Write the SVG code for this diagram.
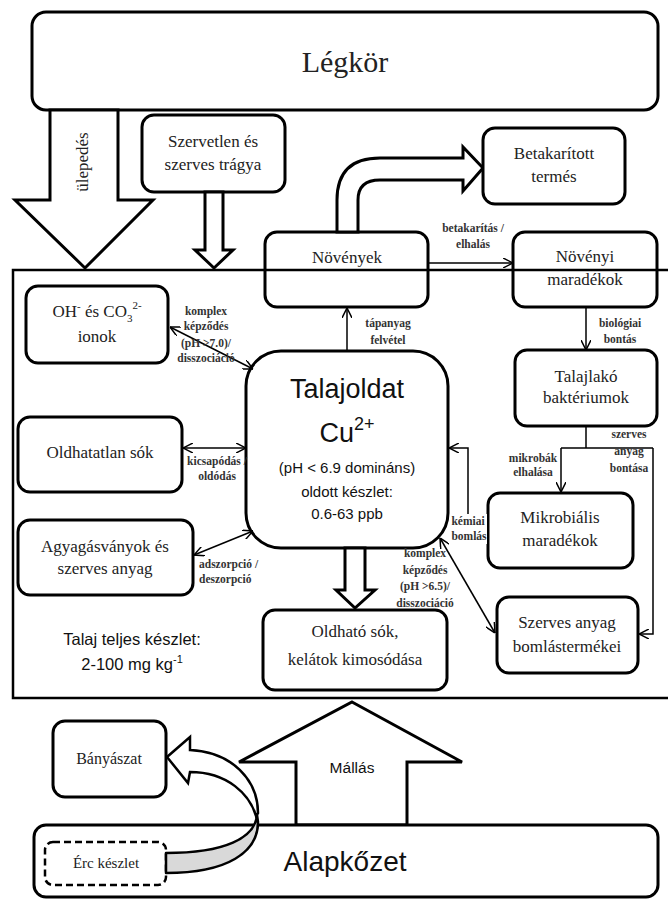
<svg xmlns="http://www.w3.org/2000/svg" width="668" height="899" viewBox="0 0 668 899">
<style>
.box{fill:#fff;stroke:#000;stroke-width:3}
.nb{fill:none;stroke:#000;stroke-width:3}
.big{fill:#fff;stroke:#000;stroke-width:3;stroke-linejoin:miter}
.ln{fill:none;stroke:#000;stroke-width:1.5}
.serif{font-family:"Liberation Serif","Times New Roman",serif;font-size:17px;fill:#222;text-anchor:middle}
.sans{font-family:"Liberation Sans",Arial,sans-serif;fill:#111;text-anchor:middle}
.lbl{font-family:"Liberation Serif","Times New Roman",serif;font-size:11.5px;font-weight:bold;fill:#333;text-anchor:middle}
</style>
<defs>
<marker id="ah" viewBox="0 0 10 10" refX="10" refY="5" markerWidth="10" markerHeight="10" markerUnits="userSpaceOnUse" orient="auto-start-reverse">
<path d="M0,0 L10,5 L0,10" fill="none" stroke="#000" stroke-width="1.5"/>
</marker>
</defs>

<g id="legkor">
<rect class="box" x="32" y="12" width="626" height="98" rx="14"/>
<text class="serif" x="345" y="72" style="font-size:30px">Légkör</text>
</g>

<g id="ulepedes">
<polygon class="big" points="50,110 118,110 118,200 153,200 85,268 15,200 50,200"/>
<text class="serif" transform="translate(88,162) rotate(-90)" style="font-size:17px">ülepedés</text>
</g>

<g id="talaj">
<rect x="13" y="270" width="700" height="428" fill="none" stroke="#000" stroke-width="2.5"/>
<text class="sans" x="132" y="645" style="font-size:16.5px">Talaj teljes készlet:</text>
<text class="sans" x="132" y="670" style="font-size:16.5px">2-100 mg kg<tspan dy="-7" style="font-size:11px">-1</tspan></text>
</g>

<g id="szervetlen">
<rect class="box" x="142" y="115" width="143" height="77" rx="12"/>
<text class="serif" x="213" y="147">Szervetlen és</text>
<text class="serif" x="213" y="170">szerves trágya</text>
<polygon class="big" points="205,192 223,192 223,250 233,250 214,268 195,250 205,250"/>
</g>

<g id="novenyek">
<rect class="nb" x="265" y="232" width="163" height="75" rx="12"/>
<text class="serif" x="347" y="263">Növények</text>
<path class="big" d="M337,232 L337,200 Q337,158 380,158 L463,158 L463,147 L483,168 L463,191 L463,180 L380,180 Q358,180 358,200 L358,232 Z"/>
</g>

<g id="betakaritott">
<rect class="box" x="483" y="128" width="142" height="76" rx="12"/>
<text class="serif" x="554" y="159">Betakarított</text>
<text class="serif" x="554" y="182">termés</text>
</g>

<g id="novenyi-maradekok">
<rect class="nb" x="513" y="232" width="144" height="75" rx="12"/>
<text class="serif" x="585" y="262">Növényi</text>
<text class="serif" x="585" y="285">maradékok</text>
</g>

<g id="oh-ionok">
<rect class="box" x="26" y="286" width="142" height="77" rx="12"/>
<text class="serif" x="97" y="317">OH<tspan dy="-7" style="font-size:11px">-</tspan><tspan dy="7"> és CO</tspan><tspan dy="5" style="font-size:11px">3</tspan><tspan dy="-13" style="font-size:11px">2-</tspan></text>
<text class="serif" x="97" y="342">ionok</text>
</g>

<g id="oldhatatlan">
<rect class="box" x="18" y="417" width="164" height="75" rx="12"/>
<text class="serif" x="100" y="458">Oldhatatlan sók</text>
</g>

<g id="agyag">
<rect class="box" x="18" y="520" width="175" height="75" rx="12"/>
<text class="serif" x="105" y="552">Agyagásványok és</text>
<text class="serif" x="105" y="574">szerves anyag</text>
</g>

<g id="talajoldat">
<rect class="box" x="246" y="351" width="202" height="197" rx="35"/>
<text class="sans" x="347" y="398" style="font-size:27px">Talajoldat</text>
<text class="sans" x="347" y="442" style="font-size:27px">Cu<tspan dy="-12" style="font-size:18px">2+</tspan></text>
<text class="sans" x="347" y="473" style="font-size:15px">(pH &lt; 6.9 domináns)</text>
<text class="sans" x="347" y="497" style="font-size:15px">oldott készlet:</text>
<text class="sans" x="347" y="519" style="font-size:15px">0.6-63 ppb</text>
<polygon class="big" points="345,548 365,548 365,590 375,590 355,608 336,590 345,590"/>
</g>

<g id="oldhato">
<rect class="box" x="263" y="610" width="184" height="80" rx="12"/>
<text class="serif" x="355" y="637">Oldható sók,</text>
<text class="serif" x="355" y="665">kelátok kimosódása</text>
</g>

<g id="talajlako">
<rect class="box" x="515" y="350" width="142" height="76" rx="12"/>
<text class="serif" x="586" y="382">Talajlakó</text>
<text class="serif" x="586" y="403">baktériumok</text>
</g>

<g id="mikrobialis">
<rect class="box" x="488" y="493" width="145" height="75" rx="12"/>
<text class="serif" x="560" y="523">Mikrobiális</text>
<text class="serif" x="560" y="546">maradékok</text>
</g>

<g id="szerves-bomlas">
<rect class="box" x="497" y="597" width="141" height="76" rx="12"/>
<text class="serif" x="567" y="628">Szerves anyag</text>
<text class="serif" x="567" y="652">bomlástermékei</text>
</g>

<g id="connectors">
<line class="ln" x1="170" y1="327" x2="253" y2="369" marker-start="url(#ah)" marker-end="url(#ah)"/>
<line class="ln" x1="347" y1="351" x2="347" y2="308" marker-end="url(#ah)"/>
<line class="ln" x1="183" y1="448" x2="246" y2="448" marker-start="url(#ah)" marker-end="url(#ah)"/>
<line class="ln" x1="194" y1="555" x2="253" y2="531" marker-start="url(#ah)" marker-end="url(#ah)"/>
<line class="ln" x1="428" y1="263" x2="513" y2="263" marker-end="url(#ah)"/>
<line class="ln" x1="586" y1="307" x2="586" y2="350" marker-end="url(#ah)"/>
<path class="ln" d="M586,426 L586,448 M561,448 L653,448"/>
<path class="ln" d="M561,448 L561,492" marker-end="url(#ah)"/>
<path class="ln" d="M653,448 L653,634 L639,634" marker-end="url(#ah)"/>
<path class="ln" d="M488,536 L468,536 L468,448 L449,448" marker-end="url(#ah)"/>
<line class="ln" x1="440" y1="538" x2="495" y2="633" marker-start="url(#ah)" marker-end="url(#ah)"/>

<text class="lbl" x="206" y="315">komplex</text>
<text class="lbl" x="206" y="330">képződés</text>
<text class="lbl" x="206" y="347">(pH &gt;7.0)/</text>
<text class="lbl" x="206" y="362">disszociáció</text>
<text class="lbl" x="388" y="327">tápanyag</text>
<text class="lbl" x="388" y="344">felvétel</text>
<text class="lbl" x="473" y="232">betakarítás /</text>
<text class="lbl" x="473" y="248">elhalás</text>
<text class="lbl" x="620" y="327">biológiai</text>
<text class="lbl" x="620" y="343">bontás</text>
<text class="lbl" x="629" y="438">szerves</text>
<text class="lbl" x="629" y="455">anyag</text>
<text class="lbl" x="629" y="472">bontása</text>
<text class="lbl" x="533" y="462">mikrobák</text>
<text class="lbl" x="533" y="476">elhalása</text>
<rect x="451" y="514" width="36" height="30" fill="#fff"/>
<text class="lbl" x="468" y="525">kémiai</text>
<text class="lbl" x="469" y="540">bomlás</text>
<text class="lbl" x="217" y="465">kicsapódás /</text>
<text class="lbl" x="217" y="480">oldódás</text>
<text class="lbl" x="199" y="568" style="text-anchor:start">adszorpció /</text>
<text class="lbl" x="199" y="583" style="text-anchor:start">deszorpció</text>
<text class="lbl" x="425" y="557">komplex</text>
<text class="lbl" x="425" y="574">képződés</text>
<text class="lbl" x="425" y="590">(pH &gt;6.5)/</text>
<text class="lbl" x="425" y="607">disszociáció</text>
</g>

<g id="mallas">
<polygon class="big" points="352,702 462,762 407,762 407,825 296,825 296,762 239,762"/>
<text class="sans" x="352" y="773" style="font-size:15.5px">Mállás</text>
</g>

<g id="alapkozet">
<rect class="box" x="34" y="825" width="624" height="72" rx="12"/>
<text class="sans" x="345" y="871" style="font-size:28px">Alapkőzet</text>
</g>

<g id="banyaszat">
<rect class="box" x="53" y="721" width="113" height="76" rx="12"/>
<text class="serif" x="109" y="764" style="font-size:16px">Bányászat</text>
</g>

<g id="erc">
<rect x="45" y="842" width="121" height="43" rx="8" fill="#fff" stroke="#000" stroke-width="2.5" stroke-dasharray="7,4"/>
<text class="serif" x="106" y="868" style="font-size:15px">Érc készlet</text>
</g>

<g id="banyaszat-arrow">
<path d="M257,815 C255,838 225,853 166,853 L166,873 C228,873 258,852 258,822 Z" fill="#d9d9d9" stroke="#000" stroke-width="2.5" stroke-linejoin="round"/>
<path d="M190,750 C232,752 258,780 258,813 L256,816 C250,795 228,772 190,772 L188,783 L167,757 L190,737 Z" fill="#fff" stroke="#000" stroke-width="2.5" stroke-linejoin="miter"/>
</g>
</svg>
